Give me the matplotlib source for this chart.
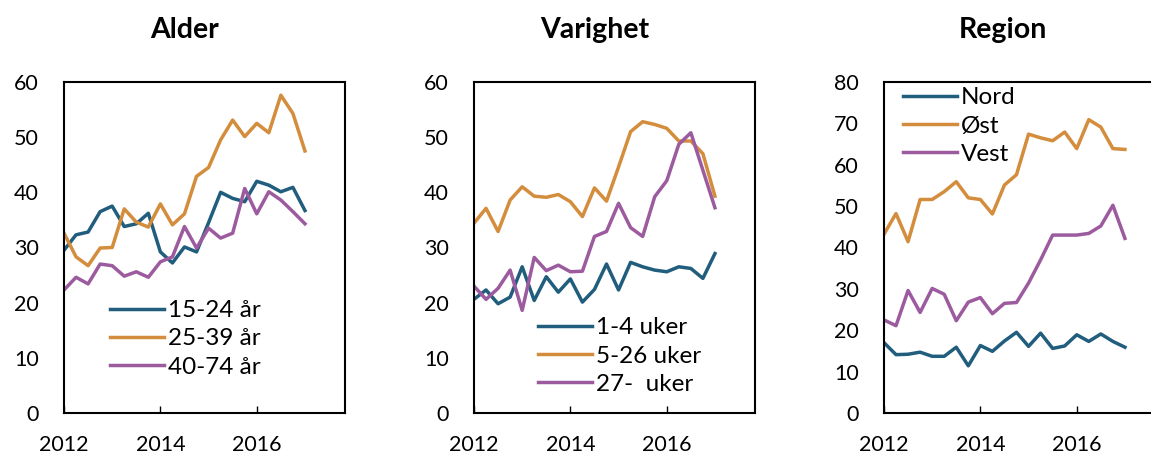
"""Tre paneler med kvartalsvise serier 2012-2017: Alder, Varighet og Region."""

import matplotlib

matplotlib.use("Agg")
import matplotlib.pyplot as plt
import numpy as np


plt.rcParams["font.family"] = ["Lato", "DejaVu Sans"]

# Kvartaler fra 2012K1 til 2017K1 (21 punkter)
quarters = 2012 + np.arange(21) * 0.25

# Panel 1: Alder
alder_labels = ["15-24 år", "25-39 år", "40-74 år"]
alder_15_24 = [29.5, 32.3, 32.8, 36.5, 37.5, 33.8, 34.3, 36.2, 29.2, 27.2, 30.1,
               29.2, 34.5, 40.0, 38.9, 38.3, 42.0, 41.3, 40.1, 40.9, 36.7]
alder_25_39 = [32.6, 28.3, 26.7, 29.9, 30.0, 37.0, 34.6, 33.7, 37.9, 34.1, 36.1,
               42.9, 44.5, 49.5, 53.1, 50.1, 52.5, 50.8, 57.6, 54.3, 47.5]
alder_40_74 = [22.3, 24.6, 23.4, 27.0, 26.7, 24.8, 25.6, 24.6, 27.4, 28.3, 33.8,
               29.9, 33.5, 31.7, 32.6, 40.7, 36.1, 40.1, 38.6, 36.5, 34.3]

# Panel 2: Varighet
varighet_labels = ["1-4 uker", "5-26 uker", "27-  uker"]
varighet_1_4 = [20.6, 22.3, 19.8, 21.0, 26.5, 20.4, 24.7, 21.9, 24.3, 20.1, 22.4,
                27.0, 22.3, 27.3, 26.5, 25.9, 25.6, 26.5, 26.2, 24.4, 28.9]
varighet_5_26 = [34.4, 37.1, 32.9, 38.6, 41.0, 39.3, 39.1, 39.6, 38.3, 35.6, 40.8,
                 38.4, 44.6, 51.0, 52.8, 52.3, 51.6, 49.3, 49.3, 47.0, 39.3]
varighet_27 = [23.0, 20.6, 22.6, 25.9, 18.6, 28.2, 25.8, 26.8, 25.6, 25.7, 32.0,
               32.9, 38.0, 33.6, 32.0, 39.2, 42.1, 48.7, 50.8, 44.0, 37.2]

# Panel 3: Region
region_labels = ["Nord", "Øst", "Vest"]
region_nord = [17.0, 14.1, 14.2, 14.7, 13.7, 13.7, 15.9, 11.4, 16.3, 14.9, 17.4,
               19.5, 16.1, 19.3, 15.6, 16.2, 18.9, 17.3, 19.1, 17.3, 15.9]
region_ost = [43.2, 48.2, 41.4, 51.6, 51.6, 53.5, 55.9, 52.0, 51.6, 48.1, 55.1,
              57.6, 67.4, 66.5, 65.8, 67.9, 63.9, 70.9, 69.1, 63.9, 63.7]
region_vest = [22.5, 21.1, 29.6, 24.3, 30.1, 28.7, 22.3, 26.8, 27.9, 24.0, 26.5,
               26.7, 31.4, 37.0, 43.0, 43.0, 43.0, 43.4, 45.2, 50.2, 42.2]

colors = ["#215D7D", "#D38D3C", "#9C5B9E"]

fig = plt.figure(figsize=(11.51, 4.57), dpi=100)

# (venstre kant, y-maks, tittel, tittel-x, serier, etiketter, legendeplassering)
panels = [
    (0.0556, 60, "Alder", 0.160, [alder_15_24, alder_25_39, alder_40_74],
     alder_labels, (0.164, 0.224)),
    (0.4118, 60, "Varighet", 0.517, [varighet_1_4, varighet_5_26, varighet_27],
     varighet_labels, (0.228, 0.172)),
    (0.7680, 80, "Region", 0.871, [region_nord, region_ost, region_vest],
     region_labels, (0.068, 0.867)),
]

for left, ymax, title, title_x, series, labels, legend_pos in panels:
    ax = fig.add_axes([left, 0.0963, 0.2441, 0.7243])

    for values, label, color in zip(series, labels, colors):
        ax.plot(quarters, values, color=color, linewidth=2.5, label=label)

    ax.set_xlim(2012, 2017.83)
    ax.set_ylim(0, ymax)
    ax.set_xticks([2012, 2014, 2016])
    ax.set_yticks(np.arange(0, ymax + 1, 10))
    ax.tick_params(axis="x", direction="in", length=5, width=1, pad=16,
                   labelsize=15.5)
    ax.tick_params(axis="y", length=0, pad=18, labelsize=15.5)

    for spine in ax.spines.values():
        spine.set_linewidth(1.5)
        spine.set_color("black")

    ax.legend(loc="center left", bbox_to_anchor=legend_pos, frameon=False,
              fontsize=17.5, handlelength=2.2, handletextpad=0.17,
              labelspacing=0.3, borderpad=0, borderaxespad=0)

    fig.text(title_x, 0.935, title, ha="center", va="center",
             fontsize=20.5, fontweight="bold")

fig.savefig("out.png", dpi=100)
